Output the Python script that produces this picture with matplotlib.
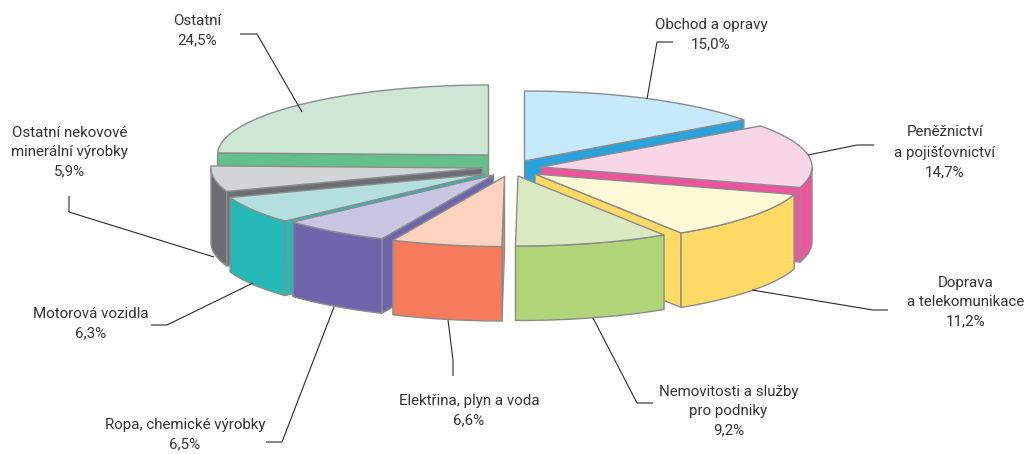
import numpy as np
from matplotlib import pyplot as plt
from matplotlib.patches import Polygon

plt.rcParams['font.family'] = ['Roboto', 'Open Sans', 'DejaVu Sans']

# data, clockwise from 12 o'clock
labels = ['Obchod a opravy\n15,0%', 'Peněžnictví\na pojišťovnictví\n14,7%',
          'Doprava\na telekomunikace\n11,2%', 'Nemovitosti a služby\npro podniky\n9,2%',
          'Elektřina, plyn a voda\n6,6%', 'Ropa, chemické výrobky\n6,5%',
          'Motorová vozidla\n6,3%', 'Ostatní nekovové\nminerální výrobky\n5,9%',
          'Ostatní\n24,5%']
values = [15.0, 14.7, 11.2, 9.2, 6.6, 6.5, 6.3, 5.9, 24.5]

# styles and layout (pixels)
top_colors = ['#c6e9fb', '#f9d5e8', '#fff9d6', '#dbe9c0', '#fdd2bf', '#c8c6e2', '#b3e0de', '#d3d4d6', '#cde6d6']
side_colors = ['#2aa3dc', '#ee549e', '#ffdb66', '#afd578', '#f57b5b', '#6e66ad', '#25bab8', '#6d6e71', '#64bf8b']
apex_x = [524.5, 541, 535, 518, 504.5, 493.5, 485.5, 482, 488.5]
apex_y = [161, 167, 174, 176, 176.5, 175, 174, 168, 155]
draw_order = [8, 0, 7, 1, 6, 2, 5, 3, 4]
label_x = [711, 945, 966, 728.5, 469, 185, 91, 69.5, 197]
label_y = [34.5, 152, 302, 411.5, 411, 435, 323.5, 152, 31]
leader_x = [[673, 657, 647], [874, 857, 808], [888, 873, 752], [653, 637, 593], [453, 453, 448],
            [266, 282, 334], [151, 167, 253], [69, 69, 214], [240, 257, 302]]
leader_y = [[42, 42, 99], [145, 145, 155], [310, 310, 290], [403, 403, 318], [376, 360, 320],
            [442, 442, 307], [325, 325, 283], [196, 212, 257], [34, 34, 112]]
rx, ry, depth = 271, 70, 74.5
edge = '#8c8c8c'

shares = np.array(values) / sum(values) * 360
ends = np.cumsum(shares)
starts = ends - shares

fig = plt.figure(figsize=(10.28, 4.54), dpi=100)
ax = fig.add_axes([0, 0, 1, 1])
ax.set_xlim(0, 1028)
ax.set_ylim(454, 0)
ax.axis('off')


def rim(cx, cy, a, b):
    t = np.radians(np.linspace(a, b, 80))
    return np.column_stack([cx + rx * np.sin(t), cy - ry * np.cos(t)])


def cut_face(cx, cy, angle, color):
    p = rim(cx, cy, angle, angle)[0]
    pts = [(cx, cy), p, (p[0], p[1] + depth), (cx, cy + depth)]
    ax.add_patch(Polygon(pts, closed=True, fc=color, ec=edge, lw=1, joinstyle='round'))


for i in draw_order:
    cx, cy = apex_x[i], apex_y[i]
    a, b = starts[i], ends[i]
    if a > 180:
        cut_face(cx, cy, a, side_colors[i])
    if b <= 180:
        cut_face(cx, cy, b, side_colors[i])
    lo, hi = max(a, 90), min(b, 270)
    if lo < hi:
        arc = rim(cx, cy, lo, hi)
        low = arc[::-1] + [0, depth]
        ax.add_patch(Polygon(np.vstack([arc, low]), closed=True, fc=side_colors[i], ec=edge, lw=1))
    top = np.vstack([[(cx, cy)], rim(cx, cy, a, b)])
    ax.add_patch(Polygon(top, closed=True, fc=top_colors[i], ec=edge, lw=1))

for xs, ys in zip(leader_x, leader_y):
    ax.plot(xs, ys, color='#2a2a2a', lw=0.8, solid_capstyle='butt', zorder=1)

for text, x, y in zip(labels, label_x, label_y):
    ax.text(x, y, text, ha='center', va='center', fontsize=10.9, color='#333333',
            linespacing=1.48)

fig.savefig('out.png', dpi=100)
